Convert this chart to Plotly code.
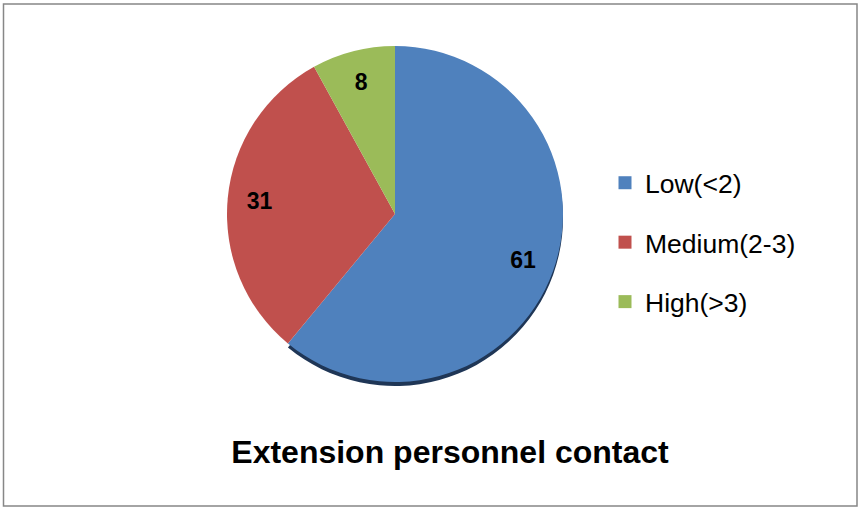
import plotly.graph_objects as go

categories = ["Low(<2)", "Medium(2-3)", "High(>3)"]
values = [61, 31, 8]
colors = ["#4F81BD", "#C0504D", "#9BBB59"]
shadow_colors = ["#1F3656", "rgba(0,0,0,0)", "rgba(0,0,0,0)"]
title_text = "Extension personnel contact"

W, H = 859, 508
cx, cy, r = 395, 214, 168


def dom(dy=0):
    return dict(x=[(cx - r) / W, (cx + r) / W],
                y=[1 - (cy + dy + r) / H, 1 - (cy + dy - r) / H])


fig = go.Figure()
# 3D-like rim shadow
fig.add_trace(go.Pie(
    labels=categories, values=values, sort=False, direction="clockwise", rotation=0,
    marker=dict(colors=shadow_colors, line=dict(width=0)), textinfo="none",
    domain=dom(4), showlegend=False, hoverinfo="skip",
))
# main pie
fig.add_trace(go.Pie(
    labels=categories, values=values, sort=False, direction="clockwise", rotation=0,
    marker=dict(colors=colors, line=dict(width=0)), textinfo="none",
    domain=dom(0), showlegend=False, hoverinfo="label+value",
))
# labels placed near the rim
fig.add_trace(go.Pie(
    labels=categories, values=values, sort=False, direction="clockwise", rotation=0,
    hole=0.62, marker=dict(colors=["rgba(0,0,0,0)"] * 3, line=dict(width=0)),
    textinfo="value", textposition="inside", insidetextorientation="horizontal",
    textfont=dict(family="Liberation Sans, Arial", size=23, color="black", weight="bold"),
    domain=dom(0), showlegend=False, hoverinfo="skip",
))
for c, col in zip(categories, colors):
    fig.add_trace(go.Scatter(
        x=[None], y=[None], mode="markers", name=c, legendgroup=c,
        marker=dict(symbol="square", size=13, color=col),
    ))

fig.update_layout(
    width=W, height=H, margin=dict(l=0, r=0, t=0, b=0),
    paper_bgcolor="white", plot_bgcolor="white",
    xaxis=dict(visible=False), yaxis=dict(visible=False),
    showlegend=True,
    legend=dict(x=605 / W, y=1 - 159 / H, xanchor="left", yanchor="top",
                font=dict(family="Liberation Sans, Arial", size=26.5, color="black"),
                tracegroupgap=22, bgcolor="rgba(0,0,0,0)", itemsizing="trace"),
    title=dict(text="<b>" + title_text + "</b>", x=450 / W, xanchor="center",
               y=1 - 452 / H, yanchor="middle", yref="paper",
               font=dict(family="Liberation Sans, Arial", size=32, color="black")),
    shapes=[dict(type="rect", xref="paper", yref="paper",
                 x0=3.5 / W, x1=857 / W, y0=1 - 506 / H, y1=1 - 4 / H,
                 line=dict(color="#878787", width=1.5))],
)
fig.write_html("out.html")
